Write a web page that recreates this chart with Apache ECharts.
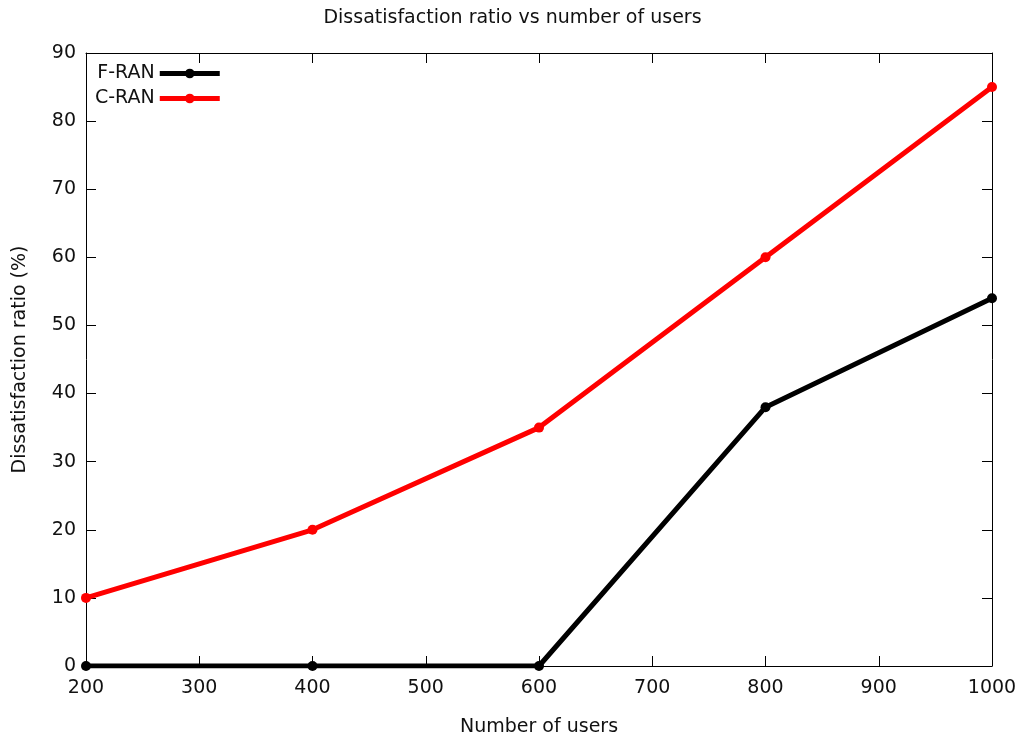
<!DOCTYPE html>
<html>
<head>
<meta charset="utf-8">
<script src="https://cdn.jsdelivr.net/npm/echarts@6/dist/echarts.min.js"></script>
<style>
html,body{margin:0;padding:0;background:#fff;}
#chart{width:1025px;height:742px;}
</style>
</head>
<body>
<div id="chart"></div>
<script>
// Number of users on the x axis
const users = [200, 400, 600, 800, 1000];
// Dissatisfaction ratio (%) for each architecture
const fRan = [0, 0, 0, 38, 54];
const cRan = [10, 20, 35, 60, 85];

const FONT = 'DejaVu Sans';
const TEXT = { fontFamily: FONT, fontSize: 19, fontWeight: 'normal', color: '#111' };
const chart = echarts.init(document.getElementById('chart'));

const pairs = (ys) => users.map((u, i) => [u, ys[i]]);

const axisLine = { show: true, onZero: false, lineStyle: { color: '#000', width: 1 } };
const tickIn = { show: true, inside: true, length: 10, lineStyle: { color: '#000', width: 1 } };

chart.setOption({
  animation: false,
  backgroundColor: '#fff',
  title: {
    text: 'Dissatisfaction ratio vs number of users',
    left: 'center', top: 4,
    textStyle: Object.assign({}, TEXT)
  },
  legend: {
    left: 90, top: 59, orient: 'vertical', align: 'right',
    itemWidth: 60, itemHeight: 12, itemGap: 6,
    lineStyle: { width: 5 },
    textStyle: Object.assign({}, TEXT),
    data: ['F-RAN', 'C-RAN']
  },
  grid: { left: 86, right: 33, top: 53, bottom: 71, containLabel: false },
  xAxis: [{
    type: 'value', min: 200, max: 1000, interval: 100,
    name: 'Number of users', nameLocation: 'middle', nameGap: 52,
    nameTextStyle: Object.assign({}, TEXT),
    axisLine, axisTick: tickIn,
    axisLabel: Object.assign({}, TEXT, { margin: 13, formatter: (v) => String(v) }),
    splitLine: { show: false }
  }, {
    type: 'value', min: 200, max: 1000, interval: 100, position: 'top',
    axisLine, axisTick: tickIn, axisLabel: { show: false }, splitLine: { show: false }
  }],
  yAxis: [{
    type: 'value', min: 0, max: 90, interval: 10,
    name: 'Dissatisfaction ratio (%)', nameLocation: 'middle', nameGap: 56,
    nameTextStyle: Object.assign({}, TEXT),
    axisLine, axisTick: tickIn,
    axisLabel: Object.assign({}, TEXT, { margin: 10 }),
    splitLine: { show: false }
  }, {
    type: 'value', min: 0, max: 90, interval: 10, position: 'right',
    axisLine, axisTick: tickIn, axisLabel: { show: false }, splitLine: { show: false }
  }],
  series: [{
    name: 'F-RAN', type: 'line', data: pairs(fRan),
    symbol: 'circle', symbolSize: 10,
    lineStyle: { color: '#000', width: 5 },
    itemStyle: { color: '#000' }
  }, {
    name: 'C-RAN', type: 'line', data: pairs(cRan),
    symbol: 'circle', symbolSize: 10,
    lineStyle: { color: '#ff0000', width: 5 },
    itemStyle: { color: '#ff0000' }
  }]
});
</script>
</body>
</html>
